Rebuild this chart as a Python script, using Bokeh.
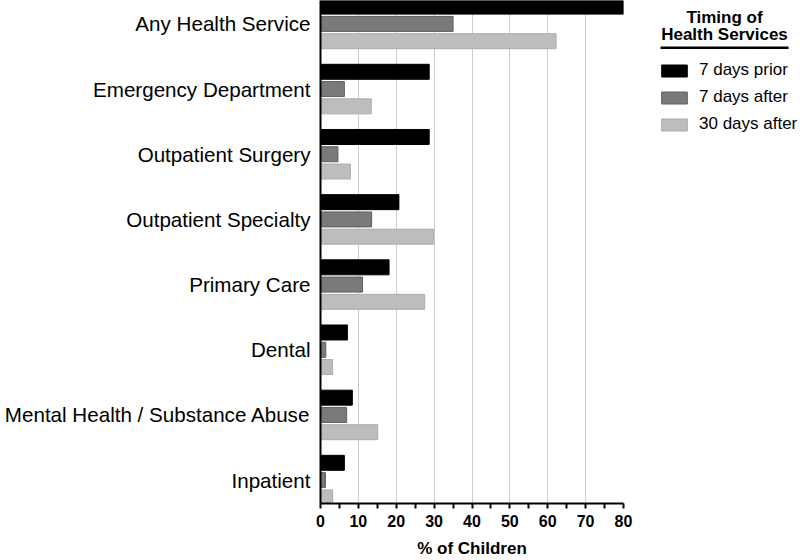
from bokeh.plotting import figure
from bokeh.layouts import row
from bokeh.models import (ColumnDataSource, FactorRange, Range1d, FixedTicker,
                          Legend, LegendItem, Label, BoxAnnotation)
from bokeh.transform import dodge
from bokeh.embed import file_html
from bokeh.resources import INLINE

categories = ["Any Health Service", "Emergency Department", "Outpatient Surgery",
              "Outpatient Specialty", "Primary Care", "Dental",
              "Mental Health / Substance Abuse", "Inpatient"]
series_names = ["7 days prior", "7 days after", "30 days after"]
prior_7 = [80.0, 28.7, 28.7, 20.7, 18.1, 7.1, 8.4, 6.3]
after_7 = [35.0, 6.3, 4.6, 13.5, 11.1, 1.4, 6.9, 1.3]
after_30 = [62.2, 13.4, 7.9, 29.9, 27.5, 3.2, 15.1, 3.2]
x_ticks = [0, 10, 20, 30, 40, 50, 60, 70, 80]
x_minor_ticks = [5, 15, 25, 35, 45, 55, 65, 75]
legend_title_1 = "Timing of"
legend_title_2 = "Health Services"
x_title = "% of Children"

FONT = "Liberation Sans"
FRAME_BOTTOM = 504  # pixel row of the frame bottom (used for screen-unit y)

source = ColumnDataSource(dict(cat=categories, prior=prior_7, after7=after_7, after30=after_30))

y_range = FactorRange(factors=list(reversed(categories)),
                      range_padding=-0.141, range_padding_units="absolute")
x_range = Range1d(0, 80)

p = figure(width=634, height=560, output_backend="svg", toolbar_location=None,
           y_range=y_range, x_range=x_range,
           min_border_left=320, min_border_right=11, min_border_top=0,
           min_border_bottom=56)
p.outline_line_color = None
p.background_fill_color = "white"

fills = ["#000000", "#7a7a7a", "#bdbdbd"]
lines = ["#000000", "#5e5e5e", "#acacac"]
cols = ["prior", "after7", "after30"]
offs = [0.265, 0.0, -0.265]
for c, off, fc, lc in zip(cols, offs, fills, lines):
    p.hbar(y=dodge("cat", off, range=y_range), right=c, left=0, height=0.23,
           source=source, fill_color=fc, line_color=lc, line_width=1)

# axes
xa = p.xaxis[0]
xa.ticker = FixedTicker(ticks=x_ticks, minor_ticks=x_minor_ticks)
xa.axis_label = x_title
xa.axis_label_text_font = FONT
xa.axis_label_text_font_size = "17px"
xa.axis_label_text_font_style = "bold"
xa.axis_label_text_color = "black"
xa.axis_label_standoff = 9
xa.major_label_text_font = FONT
xa.major_label_text_font_size = "16px"
xa.major_label_text_font_style = "bold"
xa.major_label_text_color = "black"
xa.major_label_standoff = 6
xa.axis_line_width = 2
xa.axis_line_color = "black"
xa.major_tick_line_width = 2
xa.minor_tick_line_width = 2
xa.major_tick_in = 0
xa.major_tick_out = 5
xa.minor_tick_in = 0
xa.minor_tick_out = 5

ya = p.yaxis[0]
ya.major_label_text_font = FONT
ya.major_label_text_font_size = "20.6px"
ya.major_label_text_color = "black"
ya.major_label_standoff = 10
ya.major_tick_in = 0
ya.major_tick_out = 0
ya.minor_tick_in = 0
ya.minor_tick_out = 0
ya.major_tick_line_color = None
ya.minor_tick_line_color = None
ya.axis_line_width = 2
ya.axis_line_color = "black"

p.ygrid.grid_line_color = None
p.xgrid.ticker = FixedTicker(ticks=x_ticks)
p.xgrid.grid_line_color = "#9a9a9a"
p.xgrid.grid_line_dash = "1 1"
p.xgrid.grid_line_width = 1

# legend panel: separate figure sharing the category range; hidden copies of
# the series renderers supply the legend swatches
q = figure(width=166, height=560, output_backend="svg", toolbar_location=None,
           x_range=Range1d(634, 800), y_range=y_range,
           x_axis_location=None, y_axis_location=None,
           min_border=0, min_border_left=0, min_border_right=0,
           min_border_top=0, min_border_bottom=56)
q.outline_line_color = None
q.grid.visible = False

swatches = []
for c, off, fc, lc in zip(cols, offs, fills, lines):
    r = q.hbar(y=dodge("cat", off, range=y_range), right=c, left=0, height=0.23,
               source=source, fill_color=fc, line_color=lc, line_width=1)
    r.visible = False
    swatches.append(r)

items = [LegendItem(label=n, renderers=[r]) for n, r in zip(series_names, swatches)]
legend = Legend(items=items, location=(24, 369), orientation="vertical",
                glyph_width=32, glyph_height=15, label_height=20, spacing=7,
                label_standoff=9, padding=0, margin=0,
                label_text_font=FONT, label_text_font_size="17px",
                label_text_color="black",
                inactive_fill_alpha=0,
                border_line_color=None, background_fill_alpha=0)
q.add_layout(legend, "center")

q.add_layout(Label(x=724, y=FRAME_BOTTOM - 17.5, y_units="screen", text=legend_title_1,
                   text_align="center", text_baseline="middle", text_font=FONT,
                   text_font_size="17px", text_font_style="bold", text_color="black"))
q.add_layout(Label(x=724, y=FRAME_BOTTOM - 35, y_units="screen", text=legend_title_2,
                   text_align="center", text_baseline="middle", text_font=FONT,
                   text_font_size="17px", text_font_style="bold", text_color="black"))
q.add_layout(BoxAnnotation(left=660, right=788,
                           top=FRAME_BOTTOM - 47, bottom=FRAME_BOTTOM - 49.5,
                           top_units="screen", bottom_units="screen",
                           fill_color="black", fill_alpha=1, line_color=None))

open("out.html", "w").write(file_html(row(p, q), INLINE))
